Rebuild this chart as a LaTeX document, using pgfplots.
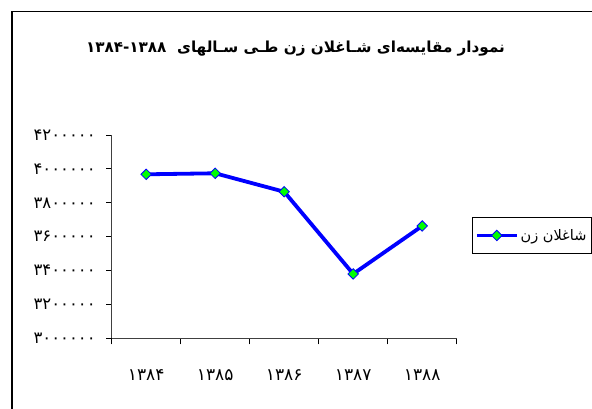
\documentclass[border=0pt]{standalone}
\usepackage{fontspec}
\usepackage{pgfplots}
\pgfplotsset{compat=1.18}
\TeXXeTstate=1
\newfontfamily\arabicfont[Script=Arabic]{DejaVu Sans}
\newfontfamily\digitfont{DejaVu Sans}
\definecolor{lineblue}{RGB}{0,0,255}
\definecolor{markgreen}{RGB}{0,255,0}
\pgfplotstableread{
x y
0 3968000
1 3974000
2 3865000
3 3380000
4 3663000
}\womendata
\begin{document}
\begin{tikzpicture}[x=1pt,y=1pt]
\useasboundingbox (0,0) rectangle (592,409);
\draw[line width=1.5pt] (12,-5) -- (12,397.5) -- (600,397.5);
\node[font=\arabicfont\bfseries\fontsize{15.2}{17}\selectfont] at (295.5,360) {\beginR نمودار مقایسه‌ای شـاغلان زن طـی سـالهای\ \ \beginL ۱۳۸۴-۱۳۸۸\endL\endR};
\begin{axis}[
  at={(111.7pt,70.7pt)}, anchor=south west,
  scale only axis, width=345pt, height=203.3pt,
  xmin=-0.5, xmax=4.5, ymin=3000000, ymax=4200000,
  axis x line*=bottom, axis y line*=left,
  axis line style={-, draw=black!75, line width=0.8pt},
  tick align=outside,
  xtick={0,1,2,3,4},
  xticklabels={۱۳۸۴,۱۳۸۵,۱۳۸۶,۱۳۸۷,۱۳۸۸},
  major x tick style={draw=none},
  minor xtick={-0.5,0.5,1.5,2.5,3.5,4.5},
  minor x tick style={draw=black, line width=0.8pt},
  minor tick length=6pt,
  xticklabel style={font=\digitfont\fontsize{17}{19}\selectfont, yshift=-22pt},
  ytick={3000000,3200000,3400000,3600000,3800000,4000000,4200000},
  yticklabels={۳۰۰۰۰۰۰,۳۲۰۰۰۰۰,۳۴۰۰۰۰۰,۳۶۰۰۰۰۰,۳۸۰۰۰۰۰,۴۰۰۰۰۰۰,۴۲۰۰۰۰۰},
  yticklabel style={font=\digitfont\fontsize{16.5}{18}\selectfont, xshift=-7pt},
  major y tick style={draw=black, line width=0.8pt},
  major tick length=5.5pt,
  scaled y ticks=false,
  clip=false,
  legend style={at={(axis description cs:1.0435,0.595)}, anchor=north west,
    draw=black, line width=0.8pt, inner xsep=2.8pt, inner ysep=9.5pt,
    font=\arabicfont\fontsize{14.5}{16}\selectfont},
  legend image code/.code={\draw[mark repeat=2,mark phase=2] plot coordinates {(0pt,0pt)(20pt,0pt)(40pt,0pt)};},
]
\addplot[color=lineblue, line width=3.8pt, mark=square*, mark size=3.7pt,
  mark options={fill=markgreen, draw=lineblue, line width=0.8pt, solid, rotate=45}]
  table[x=x, y=y] {\womendata};
\addlegendentry{\beginR شاغلان زن\endR}
\end{axis}
\end{tikzpicture}
\end{document}
